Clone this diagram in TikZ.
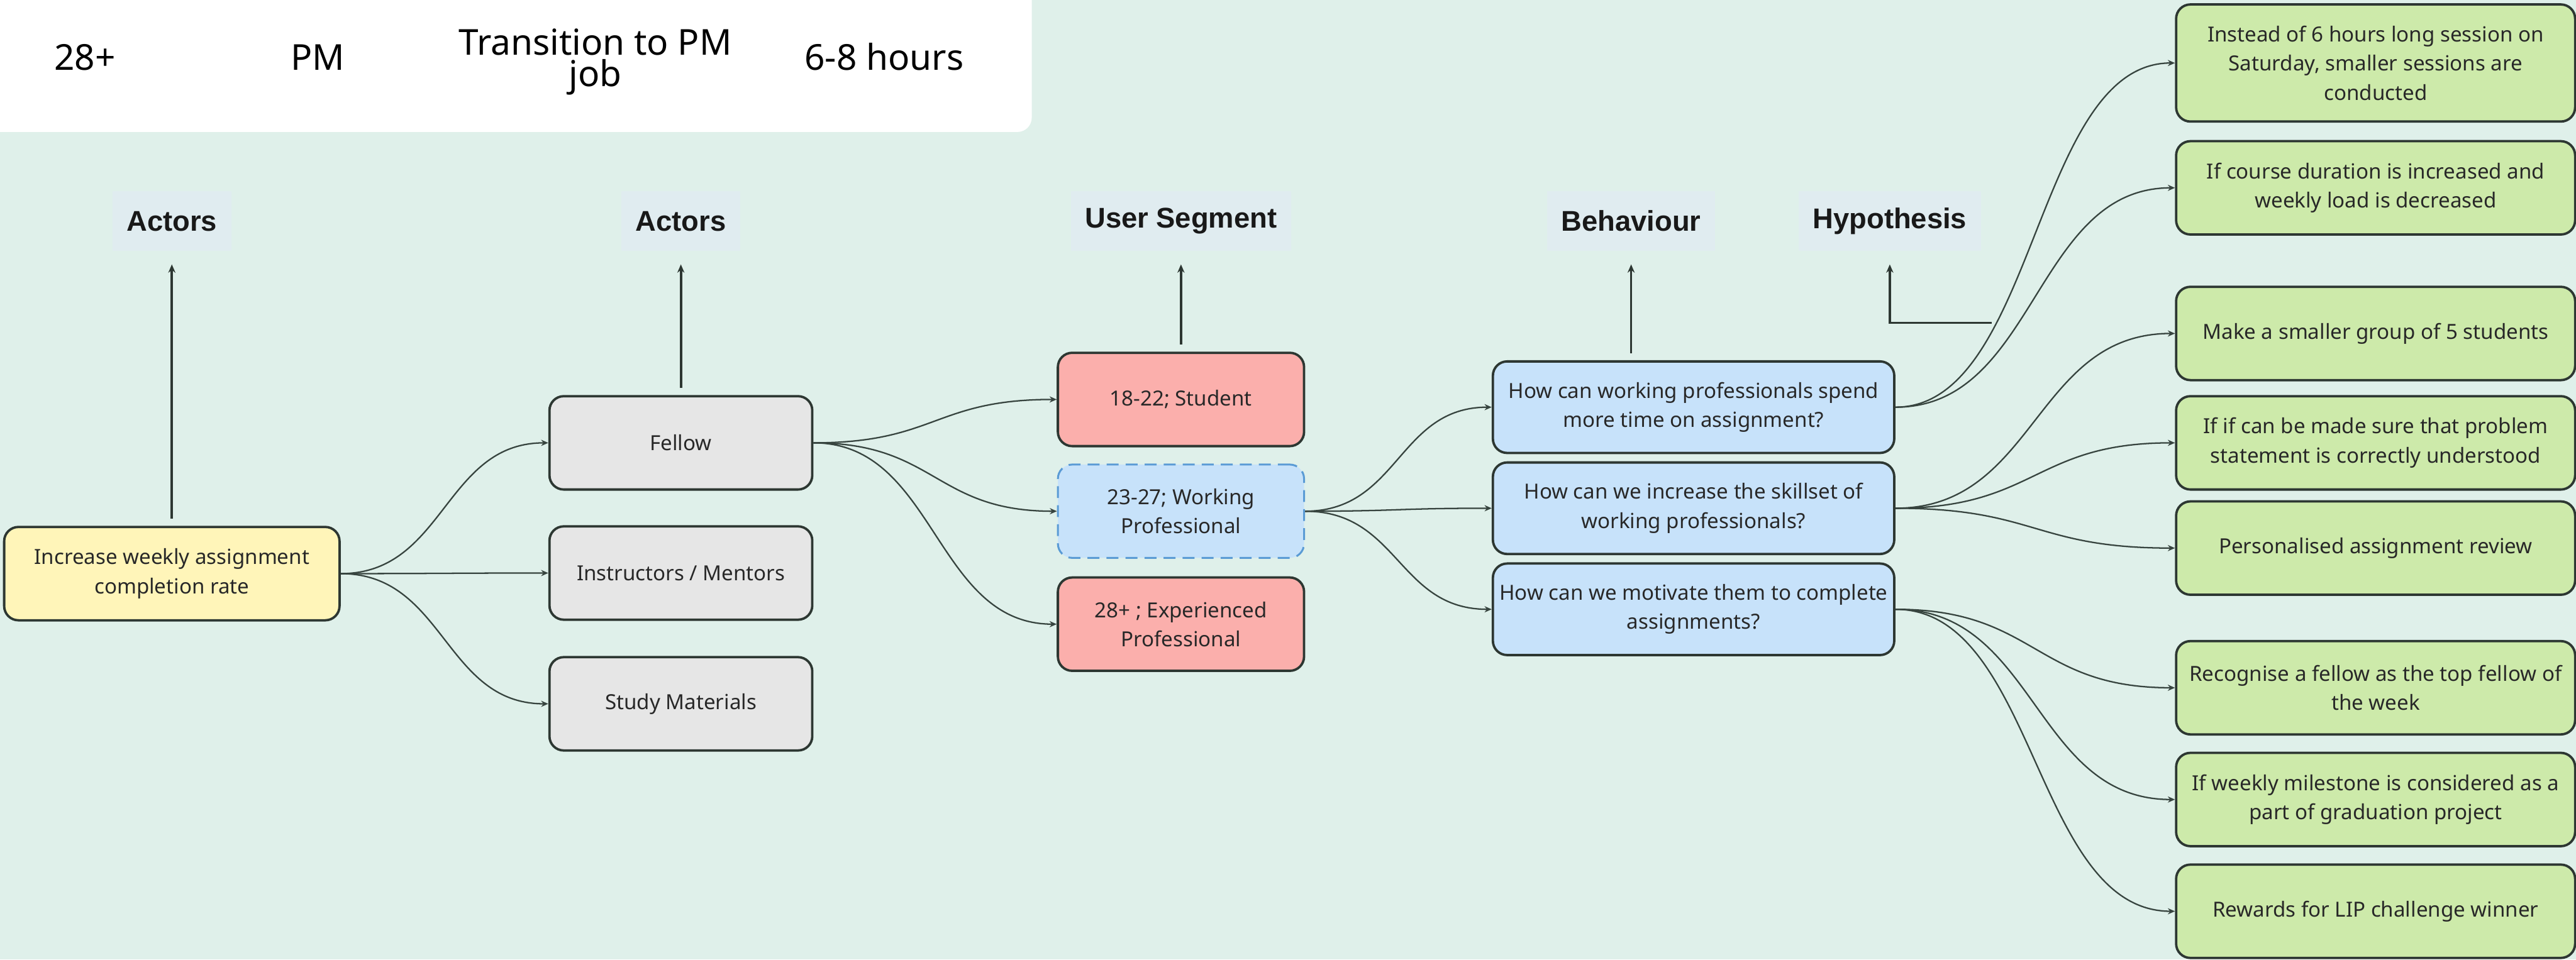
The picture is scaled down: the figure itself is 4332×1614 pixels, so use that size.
\documentclass[tikz,border=0pt]{standalone}
\usepackage{fontspec}
\setmainfont{Noto Sans}
\newfontfamily\hdfam{Liberation Sans}
\usetikzlibrary{arrows.meta,calc}
\definecolor{bgc}{RGB}{223,240,234}
\definecolor{hdbg}{RGB}{224,236,240}
\definecolor{yel}{RGB}{255,245,185}
\definecolor{gry}{RGB}{230,230,230}
\definecolor{pnk}{RGB}{251,175,172}
\definecolor{blu}{RGB}{199,226,250}
\definecolor{grn}{RGB}{205,234,170}
\definecolor{bdr}{RGB}{45,55,50}
\definecolor{lnc}{RGB}{55,68,63}
\definecolor{txc}{RGB}{40,40,40}
\definecolor{dashc}{RGB}{90,155,213}
\newcommand{\bxf}{\fontsize{8.75pt}{12.25pt}\selectfont}
\newcommand{\hdf}{\hdfam\bfseries\fontsize{12pt}{14pt}\selectfont}
\newcommand{\tpf}{\fontsize{15pt}{13pt}\selectfont}
\tikzset{
  basebox/.style={draw=bdr, line width=1pt, rounded corners=6pt, align=center, inner sep=0pt, text=txc, font=\bxf},
  goalbox/.style={basebox, fill=yel, minimum width=141pt, minimum height=39.25pt},
  graybox/.style={basebox, fill=gry, minimum width=110.5pt, minimum height=39.25pt},
  pinkbox/.style={basebox, fill=pnk, minimum width=103.5pt, minimum height=39.25pt},
  dashbox/.style={basebox, draw=dashc, line width=0.8pt, dash pattern=on 5pt off 3pt, fill=blu, minimum width=103.5pt, minimum height=39.25pt},
  bluebox/.style={basebox, fill=blu, minimum width=168.75pt, minimum height=38.5pt},
  greenbox/.style={basebox, fill=grn, minimum width=167.75pt, minimum height=39.25pt},
  hdr/.style={fill=hdbg, inner xsep=6pt, minimum height=25pt, font=\hdf, text=black!90},
  toptxt/.style={font=\tpf, text=black, align=center, inner sep=0pt},
  conn/.style={draw=lnc, line width=0.6pt, -{Stealth[length=3pt,width=2.6pt]}},
  uparr/.style={draw=bdr, line width=1pt, -{Stealth[length=3.5pt,width=3pt]}, shorten <=3pt, shorten >=5.5pt},
}
\begin{document}
\begin{tikzpicture}[x=0.25pt,y=-0.25pt]
\useasboundingbox (0,0) rectangle (4332,1614);
\fill[bgc] (0,0) rectangle (4332,1614);
\fill[white, rounded corners=6pt] (-40,-40) rectangle (1735,222);

% top strip texts
\node[toptxt, anchor=base] (tage) at (143,118) {28+};
\node[toptxt, anchor=base] (trole) at (534,118) {PM};
\node[toptxt] (tgoal) at (1001,104) {Transition to PM\\job};
\node[toptxt, anchor=base] (ttime) at (1487,118) {6-8 hours};

% headers
\node[hdr] (hact1) at (289,372) {Actors};
\node[hdr] (hact2) at (1145,372) {Actors};
\node[hdr] (hseg) at (1986,372) {User Segment};
\node[hdr] (hbeh) at (2743,372) {Behaviour};
\node[hdr] (hhyp) at (3178,372) {Hypothesis};

% boxes
\node[goalbox] (goal) at (289,965) {Increase weekly assignment\\completion rate};
\node[graybox] (fel) at (1145,745) {Fellow};
\node[graybox] (ins) at (1145,964) {Instructors / Mentors};
\node[graybox] (stm) at (1145,1184) {Study Materials};
\node[pinkbox] (s1) at (1986,672) {18-22; Student};
\node[dashbox] (s2) at (1986,860) {23-27; Working\\Professional};
\node[pinkbox] (s3) at (1986,1050) {28+ ; Experienced\\Professional};
\node[bluebox] (b1) at (2848,685) {How can working professionals spend\\more time on assignment?};
\node[bluebox] (b2) at (2848,855) {How can we increase the skillset of\\working professionals?};
\node[bluebox] (b3) at (2848,1025) {How can we motivate them to complete\\assignments?};
\node[greenbox, minimum height=49.25pt] (h1) at (3995,106) {Instead of 6 hours long session on\\Saturday, smaller sessions are\\conducted};
\node[greenbox] (h2) at (3995,316) {If course duration is increased and\\weekly load is decreased};
\node[greenbox] (h3) at (3995,561) {Make a smaller group of 5 students};
\node[greenbox] (h4) at (3995,745) {If if can be made sure that problem\\statement is correctly understood};
\node[greenbox] (h5) at (3995,922) {Personalised assignment review};
\node[greenbox] (h6) at (3995,1157) {Recognise a fellow as the top fellow of\\the week};
\node[greenbox] (h7) at (3995,1345) {If weekly milestone is considered as a\\part of graduation project};
\node[greenbox] (h8) at (3995,1533) {Rewards for LIP challenge winner};

% up arrows
\draw[uparr] (goal.north) -- (hact1.south);
\draw[uparr] (fel.north) -- (hact2.south);
\draw[uparr] (s1.north) -- (hseg.south);
\draw[uparr] (b1.north -| hbeh.south) -- (hbeh.south);
\coordinate (hk) at (3349,543);
\draw[uparr, shorten <=0pt] (hk) -| (hhyp.south);

% connectors
\foreach \t in {fel,ins,stm}
  \draw[conn] (goal.east) .. controls +(175,0) and +(-175,0) .. (\t.west);
\foreach \t in {s1,s2,s3}
  \draw[conn] (fel.east) .. controls +(206,0) and +(-206,0) .. (\t.west);
\foreach \t in {b1,b2,b3}
  \draw[conn] (s2.east) .. controls +(158,0) and +(-158,0) .. (\t.west);
\foreach \t in {h1,h2}
  \draw[conn] (b1.east) .. controls +(237,0) and +(-237,0) .. (\t.west);
\foreach \t in {h3,h4,h5}
  \draw[conn] (b2.east) .. controls +(237,0) and +(-237,0) .. (\t.west);
\foreach \t in {h6,h7,h8}
  \draw[conn] (b3.east) .. controls +(237,0) and +(-237,0) .. (\t.west);
\end{tikzpicture}
\end{document}
